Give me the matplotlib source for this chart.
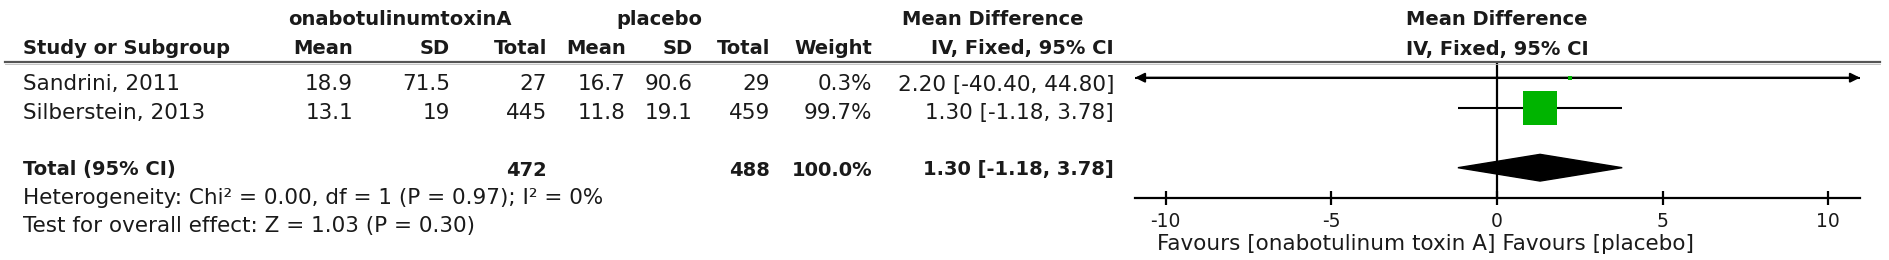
import matplotlib
matplotlib.use("Agg")
import matplotlib.pyplot as plt
from matplotlib.patches import Polygon

# Datos del forest plot
studies = ["Sandrini, 2011", "Silberstein, 2013"]
exp_mean = [18.9, 13.1]
exp_sd = [71.5, 19]
exp_n = [27, 445]
pl_mean = [16.7, 11.8]
pl_sd = [90.6, 19.1]
pl_n = [29, 459]
weights = [0.3, 99.7]
md = [2.20, 1.30]
ci_lo = [-40.40, -1.18]
ci_hi = [44.80, 3.78]

total_exp_n = 472
total_pl_n = 488
total_md = 1.30
total_lo = -1.18
total_hi = 3.78

heterogeneity = "Heterogeneity: Chi² = 0.00, df = 1 (P = 0.97); I² = 0%"
overall = "Test for overall effect: Z = 1.03 (P = 0.30)"
xticks = [-10, -5, 0, 5, 10]
xlabel = "Favours [onabotulinum toxin A] Favours [placebo]"

W, H = 1889, 260
plt.rcParams["font.family"] = "DejaVu Sans"
plt.rcParams["axes.unicode_minus"] = False
fig = plt.figure(figsize=(W / 100, H / 100), dpi=100)

FS = 15.5
FSB = 14
TXT = "#1a1a1a"


def put(x, y, s, ha="left", bold=False):
    fig.text(x / W, 1 - y / H, s, ha=ha, va="baseline",
             fontsize=FSB if bold else FS,
             fontweight="bold" if bold else "normal", color=TXT)


# === Encabezados ===
put(400, 25, "onabotulinumtoxinA", ha="center", bold=True)
put(659, 25, "placebo", ha="center", bold=True)
put(993, 25, "Mean Difference", ha="center", bold=True)
put(1497, 25, "Mean Difference", ha="center", bold=True)

cols = [353, 450, 547, 626, 693, 770, 872, 1114]
heads = ["Mean", "SD", "Total", "Mean", "SD", "Total", "Weight", "IV, Fixed, 95% CI"]
put(23, 54, "Study or Subgroup", bold=True)
for x, h in zip(cols, heads):
    put(x, 54, h, ha="right", bold=True)
put(1497, 55, "IV, Fixed, 95% CI", ha="center", bold=True)

# linea bajo encabezado
fig.add_artist(plt.Line2D([5 / W, 1880 / W], [1 - 62 / H, 1 - 62 / H],
                          color="#555555", lw=1.6))
fig.add_artist(plt.Line2D([5 / W, 1880 / W], [1 - 63.8 / H, 1 - 63.8 / H],
                          color="#bbbbbb", lw=0.6))

# === Filas de estudios ===
base = [90.5, 119.5]
for i, s in enumerate(studies):
    y = base[i]
    vals = ["{:g}".format(exp_mean[i]), "{:g}".format(exp_sd[i]), str(exp_n[i]),
            "{:g}".format(pl_mean[i]), "{:g}".format(pl_sd[i]), str(pl_n[i]),
            "{:.1f}%".format(weights[i]),
            "{:.2f} [{:.2f}, {:.2f}]".format(md[i], ci_lo[i], ci_hi[i])]
    put(23, y, s)
    for x, v in zip(cols, vals):
        put(x, y, v, ha="right")

# === Total ===
put(23, 175.5, "Total (95% CI)", bold=True)
put(cols[2], 175.5, str(total_exp_n), ha="right", bold=True)
put(cols[5], 175.5, str(total_pl_n), ha="right", bold=True)
put(cols[6], 175.5, "{:.1f}%".format(sum(weights)), ha="right", bold=True)
put(cols[7], 175.5, "{:.2f} [{:.2f}, {:.2f}]".format(total_md, total_lo, total_hi),
    ha="right", bold=True)
put(23, 204, heterogeneity)
put(23, 232, overall)

# === Forest plot ===
ax_l, ax_r, ax_top, ax_bot = 1135, 1860, 62, 198.3
ax = fig.add_axes([ax_l / W, 1 - ax_bot / H, (ax_r - ax_l) / W, (ax_bot - ax_top) / H])
xmin, xmax = -10.93, 10.96
ax.set_xlim(xmin, xmax)
ax.set_ylim(4.02, -0.523)
for sp in ["top", "left", "right"]:
    ax.spines[sp].set_visible(False)
ax.spines["bottom"].set_linewidth(1.6)
ax.set_yticks([])
ax.set_xticks(xticks)
ax.tick_params(axis="x", direction="inout", length=9.6, width=1.6, pad=5,
               labelsize=13.5, labelcolor=TXT)
ax.patch.set_alpha(0)

ax.axvline(0, color="black", lw=1.6, zorder=1)

rows = [0, 1]
sq_max = 24.1
for i, r in enumerate(rows):
    lo = max(ci_lo[i], xmin)
    hi = min(ci_hi[i], xmax)
    ax.plot([lo, hi], [r, r], color="black", lw=1.5, zorder=2,
            solid_capstyle="butt")
    if ci_lo[i] < xmin:
        ax.annotate("", xy=(xmin, r), xytext=(md[i], r),
                    arrowprops=dict(arrowstyle="-|>", lw=1.5, color="black",
                                    mutation_scale=14, shrinkA=0, shrinkB=0))
    if ci_hi[i] > xmax:
        ax.annotate("", xy=(xmax, r), xytext=(md[i], r),
                    arrowprops=dict(arrowstyle="-|>", lw=1.5, color="black",
                                    mutation_scale=14, shrinkA=0, shrinkB=0))
    # tamaño proporcional al peso, con un minimo visible
    ms = max(sq_max * (weights[i] / max(weights)) ** 0.5, 3.0)
    ax.plot(md[i], r, marker="s", ms=ms, color="#00b400", mew=0, zorder=3)

# diamante del total
yt = 3
h = 0.445
ax.add_patch(Polygon([(total_lo, yt), (total_md, yt - h), (total_hi, yt), (total_md, yt + h)],
                     closed=True, color="black", zorder=3))

fig.text(1157 / W, 1 - 250.5 / H, xlabel, ha="left", va="baseline",
         fontsize=FS, color=TXT)

fig.savefig("out.png", dpi=100)
